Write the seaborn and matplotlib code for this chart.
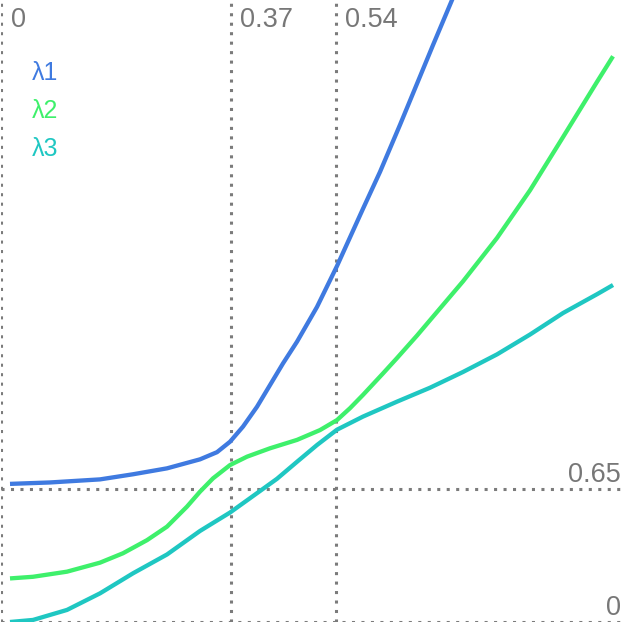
import numpy as np
import pandas as pd
import matplotlib
matplotlib.use("Agg")
import matplotlib.pyplot as plt
import seaborn as sns

# ====================== DATA ======================
# x positions were read in pixels, then mapped: x = (px - 1.5) / 620
px_l1 = [10, 50, 100, 133, 167, 200, 217, 230, 243, 257, 270, 283, 297, 317, 337,
         363, 380, 400, 433, 452, 470]
y_l1 = [0.675, 0.682, 0.697, 0.722, 0.751, 0.795, 0.830, 0.881, 0.955, 1.052, 1.158, 1.264,
        1.37, 1.54, 1.74, 2.02, 2.20, 2.43, 2.82, 3.04, 3.25]

px_l2 = [10, 33, 67, 100, 123, 147, 167, 187, 200, 213, 230, 247, 270, 297, 320, 337,
         350, 363, 383, 397, 417, 430, 463, 497, 530, 563, 597, 613]
y_l2 = [0.213, 0.221, 0.246, 0.29, 0.336, 0.40, 0.466, 0.564, 0.637, 0.702, 0.767, 0.808,
        0.849, 0.89, 0.938, 0.987, 1.045, 1.11, 1.215, 1.29, 1.40, 1.475, 1.665, 1.877,
        2.11, 2.37, 2.64, 2.765]

px_l3 = [10, 33, 67, 100, 133, 167, 200, 230, 250, 277, 297, 317, 337, 363, 397, 430,
         463, 497, 530, 563, 597, 613]
y_l3 = [0.0, 0.01, 0.059, 0.14, 0.238, 0.33, 0.445, 0.535, 0.605, 0.70, 0.783, 0.865,
        0.94, 1.004, 1.077, 1.145, 1.222, 1.308, 1.405, 1.51, 1.602, 1.647]

series_names = ["λ1", "λ2", "λ3"]
series_colors = ["#3f7ae0", "#3ef06b", "#1fc7c2"]

x_marks = [0.0, 0.37, 0.54]
x_labels = ["0", "0.37", "0.54"]
y_marks = [0.65, 0.0]
y_labels = ["0.65", "0"]


def to_x(px):
    return (np.asarray(px, dtype=float) - 1.5) / 620.0


# ====================== LONG TABLE ======================
df = pd.concat([
    pd.DataFrame({"x": to_x(px_l1), "y": y_l1, "series": "λ1"}),
    pd.DataFrame({"x": to_x(px_l2), "y": y_l2, "series": "λ2"}),
    pd.DataFrame({"x": to_x(px_l3), "y": y_l3, "series": "λ3"}),
], ignore_index=True)

# ====================== PLOT ======================
sns.set_style("white")
plt.rcParams["font.family"] = ["Liberation Sans", "DejaVu Sans"]

fig = plt.figure(figsize=(6.25, 6.25), dpi=100)
ax = fig.add_axes([0.0024, 0.0048, 0.9976, 0.9952])

grid_c = "#7b7b7b"
for xm in x_marks:
    ax.axvline(xm, color=grid_c, lw=2.2, dashes=(1, 2.1), zorder=1)
for ym in y_marks:
    ax.axhline(ym, color=grid_c, lw=2.2, dashes=(1, 2.1), zorder=1)

sns.lineplot(data=df, x="x", y="y", hue="series", hue_order=series_names,
             palette=dict(zip(series_names, series_colors)), lw=3.1,
             sort=True, estimator=None, ax=ax, zorder=3,
             solid_capstyle="butt", solid_joinstyle="round")

ax.set_xlim(0, 1.0056)
ax.set_ylim(0, 3.04)
ax.set_xticks([])
ax.set_yticks([])
ax.set_xlabel("")
ax.set_ylabel("")
sns.despine(ax=ax, left=True, bottom=True)

# labels next to the reference lines
for xm, lab in zip(x_marks, x_labels):
    ax.annotate(lab, xy=(xm, 1), xycoords=("data", "axes fraction"),
                xytext=(6.5, -5), textcoords="offset points",
                ha="left", va="top", fontsize=19.5, color="#777777")
for ym, lab in zip(y_marks, y_labels):
    ax.annotate(lab, xy=(1, ym), xycoords=("axes fraction", "data"),
                xytext=(-3, 1), textcoords="offset points",
                ha="right", va="bottom", fontsize=19.5, color="#777777")

leg = ax.legend(loc="upper left", bbox_to_anchor=(0.049, 0.902), frameon=False,
                handlelength=0, handletextpad=0, borderpad=0, borderaxespad=0,
                labelspacing=0.56, fontsize=18, labelcolor="linecolor")
for h in leg.legend_handles:
    h.set_visible(False)

fig.savefig("out.png", dpi=100)
